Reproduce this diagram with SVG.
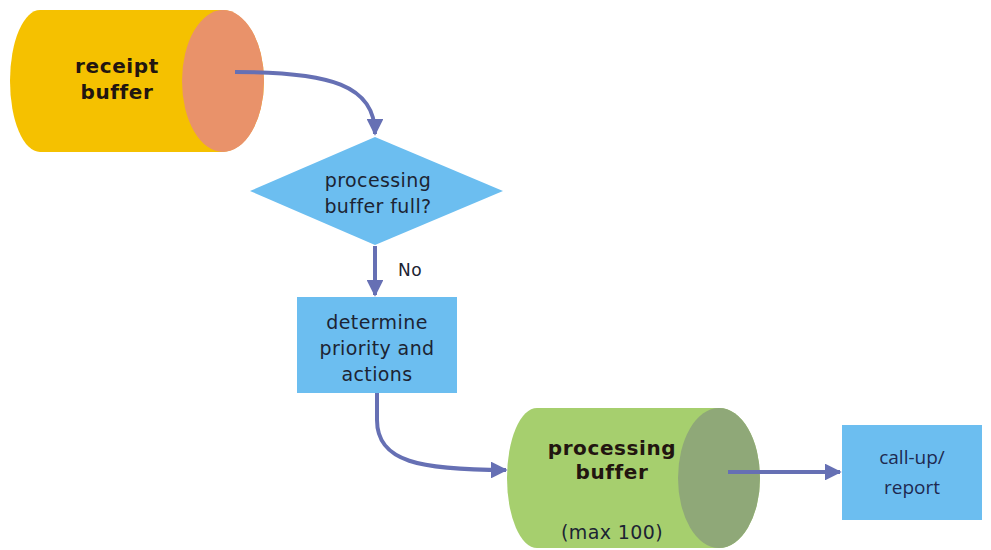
<svg xmlns="http://www.w3.org/2000/svg" width="991" height="550" viewBox="0 0 991 550">
<defs>
<marker id="ah" viewBox="0 0 10 10" refX="9" refY="5" markerWidth="4.2" markerHeight="4.2" orient="auto" markerUnits="strokeWidth">
<path d="M0,0 L10,5 L0,10 z" fill="#6670b4"/>
</marker>
<style>
.conn{fill:none;stroke:#6670b4;stroke-width:4;marker-end:url(#ah)}
.blue{fill:#6cbef0}
.t{font-family:"DejaVu Sans",Verdana,sans-serif;font-size:19px;fill:#1c2433;text-anchor:middle;letter-spacing:0.4px}
.b{font-family:"DejaVu Sans",Verdana,sans-serif;font-size:20px;font-weight:bold;fill:#221510;text-anchor:middle;letter-spacing:0.6px}
.c{font-family:"Open Sans","Liberation Sans",sans-serif;font-size:19px;fill:#1e2a50;text-anchor:middle}
</style>
</defs>
<rect width="991" height="550" fill="#ffffff"/>
<g id="receipt-buffer">
<path d="M40 10 L222 10 A42 71 0 0 1 222 152 L40 152 A30 71 0 0 1 40 10 Z" fill="#f5c100"/>
<ellipse cx="223" cy="81" rx="41" ry="71" fill="#e9926a"/>
<text class="b" x="117" y="73">receipt</text>
<text class="b" x="117" y="99">buffer</text>
</g>
<g id="decision">
<polygon class="blue" points="375,137 503,191 375,245 250,191"/>
<text class="t" x="378" y="187">processing</text>
<text class="t" x="378" y="213">buffer full?</text>
</g>
<g id="determine">
<rect class="blue" x="297" y="297" width="160" height="96"/>
<text class="t" x="377" y="329">determine</text>
<text class="t" x="377" y="355">priority and</text>
<text class="t" x="377" y="381">actions</text>
</g>
<g id="processing-buffer">
<path d="M537 408 L719 408 A41 70 0 0 1 719 548 L537 548 A30 70 0 0 1 537 408 Z" fill="#a6cf6e"/>
<ellipse cx="719" cy="478" rx="41" ry="70" fill="#8fa878"/>
<text class="b" x="612" y="455">processing</text>
<text class="b" x="612" y="479">buffer</text>
<text class="t" x="612" y="539">(max 100)</text>
</g>
<g id="callup">
<rect class="blue" x="842" y="425" width="140" height="95"/>
<text class="c" x="912" y="464">call-up/</text>
<text class="c" x="912" y="494">report</text>
</g>
<g id="connectors">
<path class="conn" d="M235 72 C330 72 375 85 375 134"/>
<path class="conn" d="M375 246 L375 295"/>
<text class="t" x="410" y="276" style="font-size:17px">No</text>
<path class="conn" d="M377 393 L377 420 C377 462 420 470 506 470"/>
<path class="conn" d="M728 472 L840 472"/>
</g>
</svg>
